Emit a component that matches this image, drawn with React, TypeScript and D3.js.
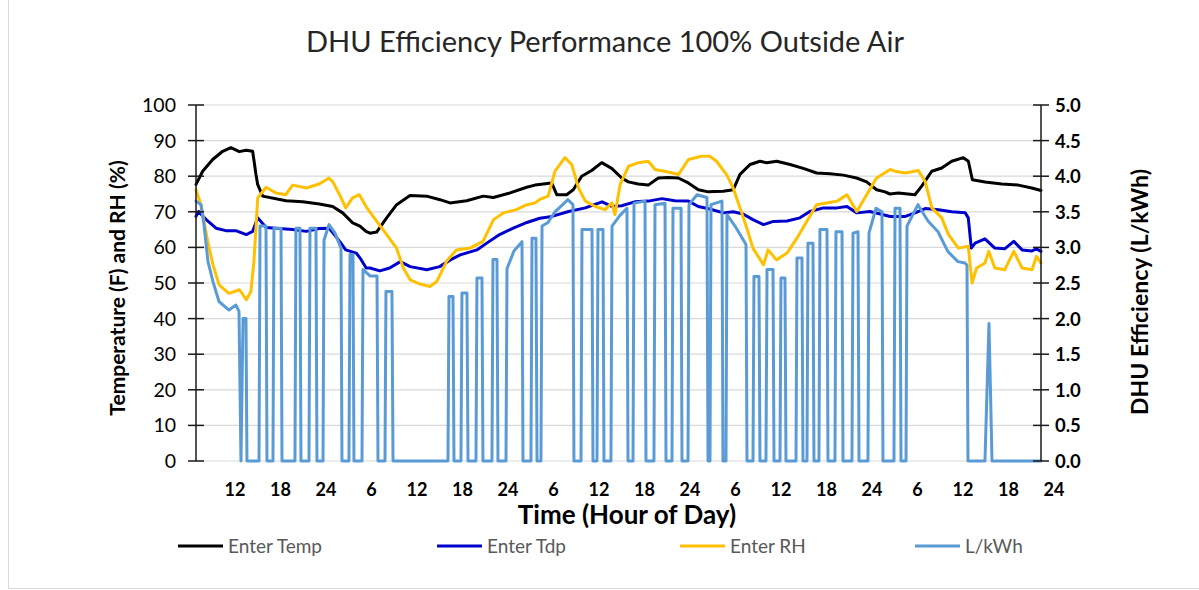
import React from 'react';
import * as d3 from 'd3';

// [hour since start-of-day-0, value]
const tempData: [number, number][] = [
  [6.86, 77.7], [7.74, 81.4], [9.06, 84.7], [10.38, 87], [11.47, 88], [12.57, 86.9], [13.45, 87.3], [14.33, 87],
  [14.77, 80.5], [14.99, 77.7], [15.65, 74.4], [18.73, 73.1], [20.93, 72.8], [23.12, 72.2], [24.88, 71.5],
  [26.2, 69.7], [27.52, 66.9], [28.48, 66], [29.28, 64.5], [29.8, 64], [30.68, 64.3], [32.0, 68.3], [33.32, 72],
  [35.08, 74.6], [37.28, 74.4], [39.03, 73.4], [40.35, 72.5], [42.55, 73.1], [44.74, 74.4], [46.06, 74],
  [48.27, 75.3], [50.47, 76.9], [51.56, 77.5], [53.77, 78.1], [54.43, 74.8], [55.74, 74.8], [56.61, 76.2],
  [57.72, 80], [59.04, 81.6], [60.36, 83.8], [61.68, 82.2], [63.0, 79.5], [63.87, 78.4], [65.19, 77.8],
  [66.5, 77.5], [67.82, 79.5], [69.14, 79.6], [70.46, 79.5], [71.78, 78.1], [73.1, 76.2], [74.42, 75.6],
  [75.3, 75.7], [76.39, 75.8], [77.71, 76.2], [78.6, 80.5], [79.92, 83.3], [81.23, 84.2], [82.12, 83.8],
  [83.44, 84.2], [85.2, 83.3], [86.94, 82.2], [88.7, 80.9], [90.46, 80.7], [92.22, 80.3], [93.98, 79.5],
  [95.3, 78.4], [96.62, 76.2], [97.72, 75.6], [98.38, 75], [99.47, 75.3], [101.67, 74.8], [102.56, 77.2],
  [103.88, 81.4], [105.2, 82.3], [106.52, 84.2], [108.05, 85.2], [108.71, 84.2], [109.24, 79], [110.91, 78.4],
  [113.11, 77.8], [115.3, 77.5], [117.07, 76.7], [118.29, 76],
];

const tdpData: [number, number][] = [
  [6.86, 68.7], [7.2, 70.1], [8.2, 67.8], [9.5, 65.4], [10.8, 64.7], [12.1, 64.7], [13.5, 63.6], [14.33, 64.5],
  [14.99, 68.3], [16.1, 65.6], [17.8, 65.3], [19.6, 65], [21.4, 64.5], [23.1, 65.3], [24.4, 65.4], [25.8, 61.7],
  [26.6, 59.3], [28.0, 58.4], [28.5, 57], [29.3, 54.2], [29.8, 54.2], [31.1, 53.4], [32.4, 54.2], [33.8, 56],
  [35.1, 54.6], [37.3, 53.7], [39.0, 54.6], [40.4, 56.5], [41.7, 57.9], [43.9, 59.3], [45.2, 61.2], [46.9, 63.6],
  [48.7, 65.4], [50.5, 67], [52.2, 68.2], [53.8, 68.7], [56.0, 70.1], [58.2, 71.1], [60.4, 72.8], [61.7, 71.5],
  [63.0, 71.7], [64.7, 72.8], [66.5, 73], [68.3, 73.7], [70.0, 73.1], [71.8, 73], [73.1, 71.5], [74.6, 70.8],
  [76.4, 69.7], [77.7, 70], [79.0, 69.4], [80.3, 67.8], [81.7, 66.4], [83.0, 67.3], [84.8, 67.4], [86.5, 68.3],
  [87.8, 70.1], [89.6, 71.1], [91.4, 71.1], [92.7, 71.5], [94.0, 69.7], [95.7, 70.1], [97.1, 69.4], [98.4, 68.7],
  [100.4, 68.7], [101.7, 69.7], [103.0, 70.9], [104.8, 70.6], [106.5, 70], [108.3, 69.7], [108.7, 68.3],
  [109.1, 59.8], [109.6, 61.2], [110.9, 62.4], [112.2, 59.8], [113.5, 59.6], [114.7, 61.7], [115.8, 59.3],
  [117.1, 59], [117.7, 59.6], [118.29, 58.9],
];

const rhData: [number, number][] = [
  [6.86, 76.2], [7.52, 72], [8.4, 61.7], [9.1, 55.1], [9.9, 49.5], [11.2, 47.1], [12.6, 48.1], [13.5, 45.3],
  [14.1, 47.6], [14.5, 56.1], [15.0, 73.9], [16.1, 76.9], [17.4, 75.3], [18.7, 74.8], [19.6, 77.5], [21.4, 76.7],
  [23.1, 77.8], [24.4, 79.5], [24.9, 78.4], [25.8, 74.8], [26.6, 71.1], [27.5, 73.9], [28.4, 74.8], [29.4, 71.1],
  [30.7, 67.3], [32.0, 63.6], [33.3, 59.8], [34.2, 54.2], [35.1, 50.9], [36.4, 49.7], [37.7, 49], [38.6, 50.4],
  [39.9, 56.1], [41.2, 59.3], [43.0, 59.8], [44.7, 61.7], [46.1, 67.8], [47.4, 69.7], [49.1, 70.6], [50.5, 72],
  [51.6, 72.5], [52.2, 73.5], [53.3, 74.4], [54.2, 81.4], [55.5, 85.2], [56.4, 83.3], [57.3, 76.7], [58.2, 73],
  [59.5, 71.5], [60.8, 70.6], [61.7, 72.5], [62.1, 69.2], [62.8, 77.7], [63.9, 82.8], [65.2, 83.8], [66.5, 84.2],
  [67.4, 81.9], [69.1, 81.2], [70.5, 80.5], [71.8, 84.7], [73.5, 85.6], [74.6, 85.6], [75.5, 84.2], [76.8, 80.5],
  [77.7, 76.7], [78.6, 71.1], [79.5, 65.4], [80.3, 59.8], [81.7, 55.1], [82.3, 59.3], [83.4, 56.5], [84.8, 58.4],
  [86.1, 62.6], [87.4, 67.3], [88.7, 72], [90.0, 72.5], [91.4, 73], [92.7, 74.8], [94.0, 70.1], [95.3, 74.8],
  [96.6, 79.5], [98.4, 81.9], [99.0, 81.4], [100.4, 80.9], [102.1, 81.6], [103.0, 78.6], [103.9, 71.1],
  [105.2, 68.3], [106.1, 63.6], [107.4, 59.8], [108.7, 60.3], [109.2, 50], [109.8, 54.2], [110.9, 55.6],
  [111.4, 58.9], [112.2, 54.2], [113.5, 53.7], [114.7, 58.9], [115.8, 54.2], [117.1, 53.7], [117.7, 57.5],
  [118.29, 55.6],
];

// L/kWh, secondary axis
const lkwhData: [number, number][] = [
  [6.86, 3.65], [7.52, 3.6], [7.91, 3.32], [8.44, 2.8], [9.1, 2.52], [9.89, 2.24], [11.21, 2.12], [12.13, 2.19],
  [12.53, 2.1], [12.79, 0], [13.06, 2.0], [13.45, 2.0], [13.58, 0],
  [15.17, 0], [15.3, 3.3], [16.09, 3.3], [16.22, 0],
  [17.01, 0], [17.14, 3.27], [18.07, 3.27], [18.2, 0],
  [19.91, 0], [20.04, 3.27], [20.57, 3.27], [20.7, 0],
  [21.76, 0], [21.89, 3.27], [22.68, 3.27], [22.81, 0],
  [23.61, 0], [23.74, 3.1], [24.4, 3.32], [25.19, 3.2], [25.98, 2.99], [26.11, 0],
  [27.03, 0], [27.17, 2.9], [27.56, 2.9], [27.69, 0],
  [28.75, 0], [28.88, 2.69], [29.8, 2.6], [30.73, 2.6], [30.86, 0],
  [31.78, 0], [31.91, 2.38], [32.7, 2.38], [32.84, 0],
  [40.09, 0], [40.22, 2.31], [40.75, 2.31], [40.88, 0],
  [41.8, 0], [41.93, 2.36], [42.59, 2.36], [42.73, 0],
  [43.78, 0], [43.91, 2.57], [44.57, 2.57], [44.7, 0],
  [45.89, 0], [46.02, 2.83], [46.55, 2.83], [46.68, 0],
  [47.74, 0], [47.87, 2.7], [48.79, 2.95], [49.85, 3.08], [49.98, 0],
  [51.03, 0], [51.17, 3.13], [51.69, 3.13], [51.83, 0],
  [52.35, 0], [52.49, 3.3], [53.28, 3.35], [54.2, 3.5], [55.91, 3.67], [56.57, 3.6], [56.7, 0],
  [57.63, 0], [57.76, 3.25], [59.08, 3.25], [59.21, 0],
  [59.74, 0], [59.87, 3.25], [60.53, 3.25], [60.66, 0],
  [61.58, 0], [61.72, 3.3], [62.77, 3.45], [63.69, 3.55], [63.83, 0],
  [64.49, 0], [64.62, 3.62], [66.07, 3.65], [66.2, 0],
  [67.25, 0], [67.39, 3.6], [68.71, 3.62], [68.84, 0],
  [69.63, 0], [69.76, 3.55], [70.82, 3.55], [70.95, 0],
  [71.74, 0], [71.87, 3.6], [72.93, 3.74], [74.24, 3.7], [74.38, 0],
  [74.64, 0], [74.77, 3.6], [76.22, 3.65], [76.35, 0],
  [76.75, 0], [76.88, 3.46], [77.94, 3.3], [79.39, 3.04], [79.52, 0],
  [80.31, 0], [80.44, 2.59], [81.1, 2.59], [81.23, 0],
  [82.02, 0], [82.16, 2.69], [82.95, 2.69], [83.08, 0],
  [83.87, 0], [84.0, 2.57], [84.53, 2.57], [84.66, 0],
  [85.98, 0], [86.11, 2.85], [86.77, 2.85], [86.9, 0],
  [87.43, 0], [87.56, 3.06], [88.22, 3.06], [88.35, 0],
  [89.01, 0], [89.14, 3.25], [90.07, 3.25], [90.2, 0],
  [91.12, 0], [91.25, 3.22], [92.05, 3.22], [92.18, 0],
  [93.36, 0], [93.5, 3.2], [94.16, 3.22], [94.29, 0],
  [95.47, 0], [95.61, 3.2], [96.53, 3.55], [97.32, 3.5], [97.45, 0],
  [98.9, 0], [99.04, 3.55], [99.69, 3.55], [99.83, 0],
  [100.49, 0], [100.62, 3.3], [102.07, 3.6], [103.39, 3.37], [104.71, 3.22], [106.02, 2.94], [107.34, 2.8],
  [108.27, 2.78], [108.53, 2.75], [108.66, 0],
  [110.9, 0], [111.43, 1.93], [111.83, 0], [118.29, 0],
];

const xTickHours = d3.range(12, 121, 6);
const leftTicks = d3.range(0, 101, 10);
const rightTicks = d3.range(0, 5.01, 0.5);

const series = [
  { name: 'Enter Temp', data: tempData, color: '#000000', axis: 'left' },
  { name: 'Enter Tdp', data: tdpData, color: '#0000CC', axis: 'left' },
  { name: 'Enter RH', data: rhData, color: '#FFC000', axis: 'left' },
  { name: 'L/kWh', data: lkwhData, color: '#5B9BD5', axis: 'right' },
];

const legendX = [178, 437, 680, 915];

const W = 1199;
const H = 590;
const font = 'Lato, "Open Sans", sans-serif';

export default function App() {
  const x = d3.scaleLinear().domain([6.86, 118.29]).range([196, 1041]);
  const yL = d3.scaleLinear().domain([0, 100]).range([461, 105]);
  const yR = d3.scaleLinear().domain([0, 5]).range([461, 105]);

  const lineFor = (axis: string) =>
    d3.line<[number, number]>()
      .x(d => x(d[0]))
      .y(d => (axis === 'left' ? yL(d[1]) : yR(d[1])));

  return (
    <svg width={W} height={H} style={{ position: 'absolute', left: 0, top: 0, background: '#fff' }}>
      <rect x={8.5} y={-1} width={W} height={589.5} fill="#fff" stroke="#d9d9d9" />
      <text x={605} y={52} textAnchor="middle" fontFamily={font} fontSize={29} fill="#262626">
        DHU Efficiency Performance 100% Outside Air
      </text>

      {leftTicks.map(t => (
        <line key={'g' + t} x1={196} x2={1041} y1={yL(t)} y2={yL(t)} stroke="#d9d9d9" strokeWidth={1.2} />
      ))}

      {series.map(s => (
        <path key={s.name} d={lineFor(s.axis)(s.data) || ''} fill="none" stroke={s.color}
          strokeWidth={3} strokeLinejoin="round" strokeLinecap="round" />
      ))}

      <line x1={196} x2={196} y1={105} y2={461} stroke="#1a1a1a" strokeWidth={1.5} />
      {leftTicks.map(t => (
        <g key={'l' + t}>
          <line x1={188} x2={204} y1={yL(t)} y2={yL(t)} stroke="#1a1a1a" strokeWidth={1.5} />
          <text x={176} y={yL(t) + 7} textAnchor="end" fontFamily={font} fontSize={19.5} fill="#000">{t}</text>
        </g>
      ))}

      <line x1={1041} x2={1041} y1={105} y2={461} stroke="#1a1a1a" strokeWidth={1.5} />
      {rightTicks.map(t => (
        <g key={'r' + t}>
          <line x1={1033} x2={1049} y1={yR(t)} y2={yR(t)} stroke="#1a1a1a" strokeWidth={1.5} />
          <text x={1055} y={yR(t) + 7} textAnchor="start" fontFamily={font} fontSize={18.5} fontWeight="bold" fill="#000">
            {t.toFixed(1)}
          </text>
        </g>
      ))}

      {xTickHours.map(h => (
        <text key={'x' + h} x={x(h)} y={496} textAnchor="middle" fontFamily={font} fontSize={18} fontWeight="bold" fill="#000">
          {h % 24 === 0 ? 24 : h % 24}
        </text>
      ))}

      <text x={627} y={524} textAnchor="middle" fontFamily={font} fontSize={26} fontWeight="bold" fill="#000">
        Time (Hour of Day)
      </text>
      <text transform="translate(125,288) rotate(-90)" textAnchor="middle" fontFamily={font} fontSize={21} fontWeight="bold" fill="#000">
        Temperature (F) and RH (%)
      </text>
      <text transform="translate(1148,292) rotate(-90)" textAnchor="middle" fontFamily={font} fontSize={23} fontWeight="bold" fill="#000">
        DHU Efficiency (L/kWh)
      </text>

      {series.map((s, i) => (
        <g key={'lg' + s.name}>
          <line x1={legendX[i]} x2={legendX[i] + 45} y1={546} y2={546} stroke={s.color} strokeWidth={3} />
          <text x={legendX[i] + 50} y={553} fontFamily={font} fontSize={19} fill="#595959">{s.name}</text>
        </g>
      ))}
    </svg>
  );
}
